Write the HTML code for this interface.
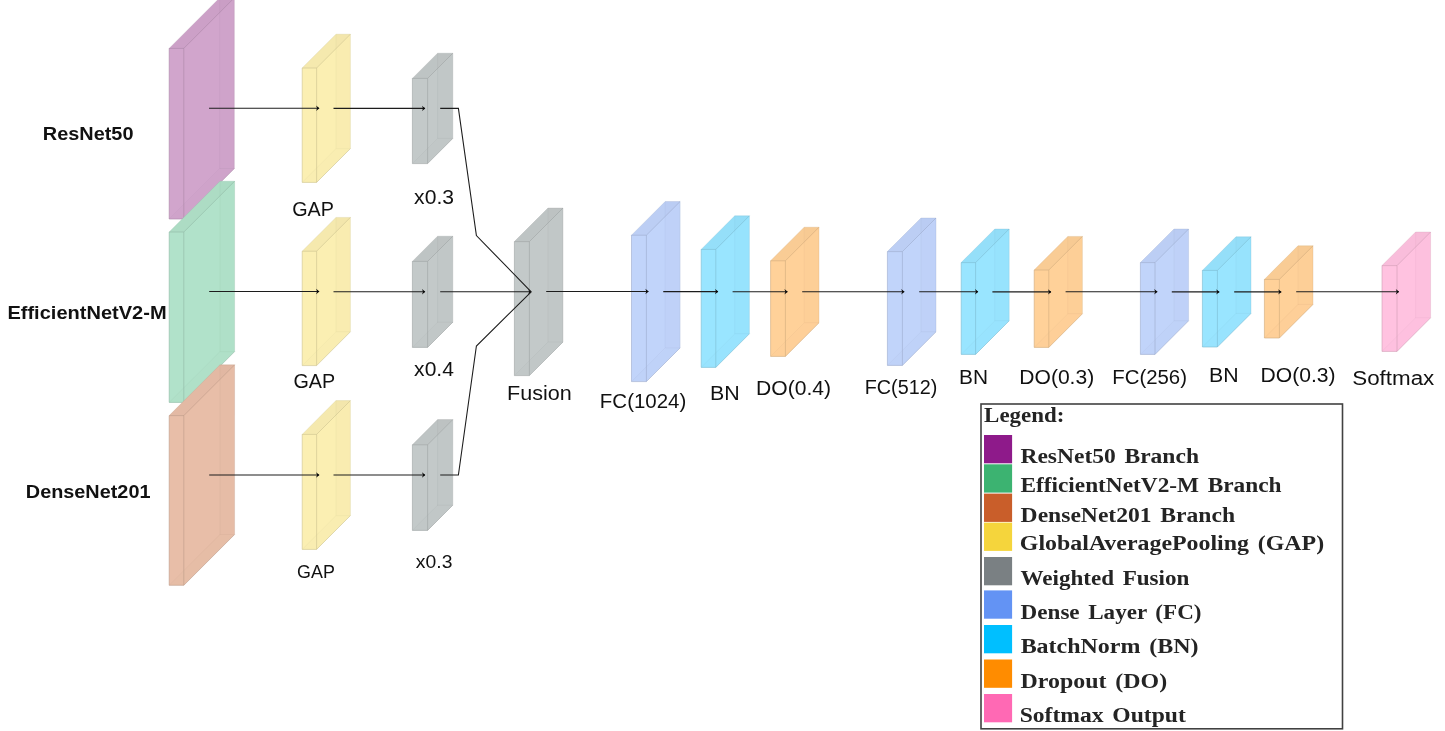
<!DOCTYPE html>
<html>
<head>
<meta charset="utf-8">
<title>Ensemble architecture</title>
<style>
html, body { margin: 0; padding: 0; background: #ffffff; }
body { width: 1445px; height: 731px; overflow: hidden; font-family: "Liberation Sans", sans-serif; }
svg { display: block; will-change: transform; transform: translateZ(0); }
svg text { font-family: "Liberation Sans", sans-serif; fill: #111; }
svg text.lg { font-family: "Liberation Serif", serif; font-weight: bold; font-size: 20.5px; fill: #242424; word-spacing: 2.5px; }
</style>
</head>
<body>
<svg width="1445" height="731" viewBox="0 0 1445 731">
<rect x="0" y="0" width="1445" height="731" fill="#ffffff"/>
<g id="boxes">
<polygon points="169.2,48.4 219.7,-2.1 234.3,-2.1 234.3,168.5 183.8,219 169.2,219" fill="#D1A5CC"/>
<polygon points="219.7,-2.1 234.3,-2.1 234.3,168.5 219.7,168.5" fill="#AB87A7" fill-opacity="0.045"/>
<polygon points="169.2,219 183.8,219 234.3,168.5 219.7,168.5" fill="#AB87A7" fill-opacity="0.03"/>
<polygon points="169.2,48.4 219.7,-2.1 234.3,-2.1 183.8,48.4" fill="#AB87A7" fill-opacity="0.13"/>
<path d="M169.2,219 L219.7,168.5 M219.7,168.5 L219.7,-2.1 M219.7,168.5 L234.3,168.5" stroke="#AB87A7" stroke-opacity="0.18" stroke-width="0.8" fill="none"/>
<path d="M169.2,48.4 L183.8,48.4 L183.8,219 L169.2,219 Z M183.8,48.4 L234.3,-2.1 M183.8,219 L234.3,168.5" stroke="#AB87A7" stroke-opacity="0.68" stroke-width="0.9" fill="none"/>
<path d="M169.2,48.4 L219.7,-2.1 L234.3,-2.1 L234.3,168.5" stroke="#AB87A7" stroke-opacity="0.35" stroke-width="0.8" fill="none"/>
<polygon points="169.2,232 220,181.2 234.6,181.2 234.6,351.6 183.8,402.4 169.2,402.4" fill="#B1E2CA"/>
<polygon points="220,181.2 234.6,181.2 234.6,351.6 220,351.6" fill="#91B9A5" fill-opacity="0.045"/>
<polygon points="169.2,402.4 183.8,402.4 234.6,351.6 220,351.6" fill="#91B9A5" fill-opacity="0.03"/>
<polygon points="169.2,232 220,181.2 234.6,181.2 183.8,232" fill="#91B9A5" fill-opacity="0.13"/>
<path d="M169.2,402.4 L220,351.6 M220,351.6 L220,181.2 M220,351.6 L234.6,351.6" stroke="#91B9A5" stroke-opacity="0.18" stroke-width="0.8" fill="none"/>
<path d="M169.2,232 L183.8,232 L183.8,402.4 L169.2,402.4 Z M183.8,232 L234.6,181.2 M183.8,402.4 L234.6,351.6" stroke="#91B9A5" stroke-opacity="0.68" stroke-width="0.9" fill="none"/>
<path d="M169.2,232 L220,181.2 L234.6,181.2 L234.6,351.6" stroke="#91B9A5" stroke-opacity="0.35" stroke-width="0.8" fill="none"/>
<polygon points="169.2,415.6 220,364.8 234.6,364.8 234.6,534.5 183.8,585.3 169.2,585.3" fill="#E8BEA8"/>
<polygon points="220,364.8 234.6,364.8 234.6,534.5 220,534.5" fill="#BE9B89" fill-opacity="0.045"/>
<polygon points="169.2,585.3 183.8,585.3 234.6,534.5 220,534.5" fill="#BE9B89" fill-opacity="0.03"/>
<polygon points="169.2,415.6 220,364.8 234.6,364.8 183.8,415.6" fill="#BE9B89" fill-opacity="0.13"/>
<path d="M169.2,585.3 L220,534.5 M220,534.5 L220,364.8 M220,534.5 L234.6,534.5" stroke="#BE9B89" stroke-opacity="0.18" stroke-width="0.8" fill="none"/>
<path d="M169.2,415.6 L183.8,415.6 L183.8,585.3 L169.2,585.3 Z M183.8,415.6 L234.6,364.8 M183.8,585.3 L234.6,534.5" stroke="#BE9B89" stroke-opacity="0.68" stroke-width="0.9" fill="none"/>
<path d="M169.2,415.6 L220,364.8 L234.6,364.8 L234.6,534.5" stroke="#BE9B89" stroke-opacity="0.35" stroke-width="0.8" fill="none"/>
<polygon points="302.2,68 336,34.2 350.4,34.2 350.4,148.6 316.6,182.4 302.2,182.4" fill="#FBEFB2"/>
<polygon points="336,34.2 350.4,34.2 350.4,148.6 336,148.6" fill="#CDC391" fill-opacity="0.045"/>
<polygon points="302.2,182.4 316.6,182.4 350.4,148.6 336,148.6" fill="#CDC391" fill-opacity="0.03"/>
<polygon points="302.2,68 336,34.2 350.4,34.2 316.6,68" fill="#CDC391" fill-opacity="0.13"/>
<path d="M302.2,182.4 L336,148.6 M336,148.6 L336,34.2 M336,148.6 L350.4,148.6" stroke="#CDC391" stroke-opacity="0.18" stroke-width="0.8" fill="none"/>
<path d="M302.2,68 L316.6,68 L316.6,182.4 L302.2,182.4 Z M316.6,68 L350.4,34.2 M316.6,182.4 L350.4,148.6" stroke="#CDC391" stroke-opacity="0.68" stroke-width="0.9" fill="none"/>
<path d="M302.2,68 L336,34.2 L350.4,34.2 L350.4,148.6" stroke="#CDC391" stroke-opacity="0.35" stroke-width="0.8" fill="none"/>
<polygon points="302.2,251.2 336,217.4 350.4,217.4 350.4,331.8 316.6,365.6 302.2,365.6" fill="#FBEFB2"/>
<polygon points="336,217.4 350.4,217.4 350.4,331.8 336,331.8" fill="#CDC391" fill-opacity="0.045"/>
<polygon points="302.2,365.6 316.6,365.6 350.4,331.8 336,331.8" fill="#CDC391" fill-opacity="0.03"/>
<polygon points="302.2,251.2 336,217.4 350.4,217.4 316.6,251.2" fill="#CDC391" fill-opacity="0.13"/>
<path d="M302.2,365.6 L336,331.8 M336,331.8 L336,217.4 M336,331.8 L350.4,331.8" stroke="#CDC391" stroke-opacity="0.18" stroke-width="0.8" fill="none"/>
<path d="M302.2,251.2 L316.6,251.2 L316.6,365.6 L302.2,365.6 Z M316.6,251.2 L350.4,217.4 M316.6,365.6 L350.4,331.8" stroke="#CDC391" stroke-opacity="0.68" stroke-width="0.9" fill="none"/>
<path d="M302.2,251.2 L336,217.4 L350.4,217.4 L350.4,331.8" stroke="#CDC391" stroke-opacity="0.35" stroke-width="0.8" fill="none"/>
<polygon points="302.2,434.4 336,400.6 350.4,400.6 350.4,515.6 316.6,549.4 302.2,549.4" fill="#FBEFB2"/>
<polygon points="336,400.6 350.4,400.6 350.4,515.6 336,515.6" fill="#CDC391" fill-opacity="0.045"/>
<polygon points="302.2,549.4 316.6,549.4 350.4,515.6 336,515.6" fill="#CDC391" fill-opacity="0.03"/>
<polygon points="302.2,434.4 336,400.6 350.4,400.6 316.6,434.4" fill="#CDC391" fill-opacity="0.13"/>
<path d="M302.2,549.4 L336,515.6 M336,515.6 L336,400.6 M336,515.6 L350.4,515.6" stroke="#CDC391" stroke-opacity="0.18" stroke-width="0.8" fill="none"/>
<path d="M302.2,434.4 L316.6,434.4 L316.6,549.4 L302.2,549.4 Z M316.6,434.4 L350.4,400.6 M316.6,549.4 L350.4,515.6" stroke="#CDC391" stroke-opacity="0.68" stroke-width="0.9" fill="none"/>
<path d="M302.2,434.4 L336,400.6 L350.4,400.6 L350.4,515.6" stroke="#CDC391" stroke-opacity="0.35" stroke-width="0.8" fill="none"/>
<polygon points="412.4,78.4 437.6,53.2 452.8,53.2 452.8,138.4 427.6,163.6 412.4,163.6" fill="#C3C9C9"/>
<polygon points="437.6,53.2 452.8,53.2 452.8,138.4 437.6,138.4" fill="#9FA4A4" fill-opacity="0.045"/>
<polygon points="412.4,163.6 427.6,163.6 452.8,138.4 437.6,138.4" fill="#9FA4A4" fill-opacity="0.03"/>
<polygon points="412.4,78.4 437.6,53.2 452.8,53.2 427.6,78.4" fill="#9FA4A4" fill-opacity="0.13"/>
<path d="M412.4,163.6 L437.6,138.4 M437.6,138.4 L437.6,53.2 M437.6,138.4 L452.8,138.4" stroke="#9FA4A4" stroke-opacity="0.18" stroke-width="0.8" fill="none"/>
<path d="M412.4,78.4 L427.6,78.4 L427.6,163.6 L412.4,163.6 Z M427.6,78.4 L452.8,53.2 M427.6,163.6 L452.8,138.4" stroke="#9FA4A4" stroke-opacity="0.68" stroke-width="0.9" fill="none"/>
<path d="M412.4,78.4 L437.6,53.2 L452.8,53.2 L452.8,138.4" stroke="#9FA4A4" stroke-opacity="0.35" stroke-width="0.8" fill="none"/>
<polygon points="412.4,261.4 437.6,236.2 452.8,236.2 452.8,322.2 427.6,347.4 412.4,347.4" fill="#C3C9C9"/>
<polygon points="437.6,236.2 452.8,236.2 452.8,322.2 437.6,322.2" fill="#9FA4A4" fill-opacity="0.045"/>
<polygon points="412.4,347.4 427.6,347.4 452.8,322.2 437.6,322.2" fill="#9FA4A4" fill-opacity="0.03"/>
<polygon points="412.4,261.4 437.6,236.2 452.8,236.2 427.6,261.4" fill="#9FA4A4" fill-opacity="0.13"/>
<path d="M412.4,347.4 L437.6,322.2 M437.6,322.2 L437.6,236.2 M437.6,322.2 L452.8,322.2" stroke="#9FA4A4" stroke-opacity="0.18" stroke-width="0.8" fill="none"/>
<path d="M412.4,261.4 L427.6,261.4 L427.6,347.4 L412.4,347.4 Z M427.6,261.4 L452.8,236.2 M427.6,347.4 L452.8,322.2" stroke="#9FA4A4" stroke-opacity="0.68" stroke-width="0.9" fill="none"/>
<path d="M412.4,261.4 L437.6,236.2 L452.8,236.2 L452.8,322.2" stroke="#9FA4A4" stroke-opacity="0.35" stroke-width="0.8" fill="none"/>
<polygon points="412.4,444.8 437.6,419.6 452.8,419.6 452.8,505.2 427.6,530.4 412.4,530.4" fill="#C3C9C9"/>
<polygon points="437.6,419.6 452.8,419.6 452.8,505.2 437.6,505.2" fill="#9FA4A4" fill-opacity="0.045"/>
<polygon points="412.4,530.4 427.6,530.4 452.8,505.2 437.6,505.2" fill="#9FA4A4" fill-opacity="0.03"/>
<polygon points="412.4,444.8 437.6,419.6 452.8,419.6 427.6,444.8" fill="#9FA4A4" fill-opacity="0.13"/>
<path d="M412.4,530.4 L437.6,505.2 M437.6,505.2 L437.6,419.6 M437.6,505.2 L452.8,505.2" stroke="#9FA4A4" stroke-opacity="0.18" stroke-width="0.8" fill="none"/>
<path d="M412.4,444.8 L427.6,444.8 L427.6,530.4 L412.4,530.4 Z M427.6,444.8 L452.8,419.6 M427.6,530.4 L452.8,505.2" stroke="#9FA4A4" stroke-opacity="0.68" stroke-width="0.9" fill="none"/>
<path d="M412.4,444.8 L437.6,419.6 L452.8,419.6 L452.8,505.2" stroke="#9FA4A4" stroke-opacity="0.35" stroke-width="0.8" fill="none"/>
<polygon points="514.4,241.6 548,208 563,208 563,342 529.4,375.6 514.4,375.6" fill="#C3C9C9"/>
<polygon points="548,208 563,208 563,342 548,342" fill="#9FA4A4" fill-opacity="0.045"/>
<polygon points="514.4,375.6 529.4,375.6 563,342 548,342" fill="#9FA4A4" fill-opacity="0.03"/>
<polygon points="514.4,241.6 548,208 563,208 529.4,241.6" fill="#9FA4A4" fill-opacity="0.13"/>
<path d="M514.4,375.6 L548,342 M548,342 L548,208 M548,342 L563,342" stroke="#9FA4A4" stroke-opacity="0.18" stroke-width="0.8" fill="none"/>
<path d="M514.4,241.6 L529.4,241.6 L529.4,375.6 L514.4,375.6 Z M529.4,241.6 L563,208 M529.4,375.6 L563,342" stroke="#9FA4A4" stroke-opacity="0.68" stroke-width="0.9" fill="none"/>
<path d="M514.4,241.6 L548,208 L563,208 L563,342" stroke="#9FA4A4" stroke-opacity="0.35" stroke-width="0.8" fill="none"/>
<polygon points="631.5,235.2 665.2,201.5 680.1,201.5 680.1,347.9 646.4,381.6 631.5,381.6" fill="#C1D4FA"/>
<polygon points="665.2,201.5 680.1,201.5 680.1,347.9 665.2,347.9" fill="#9EADCD" fill-opacity="0.045"/>
<polygon points="631.5,381.6 646.4,381.6 680.1,347.9 665.2,347.9" fill="#9EADCD" fill-opacity="0.03"/>
<polygon points="631.5,235.2 665.2,201.5 680.1,201.5 646.4,235.2" fill="#9EADCD" fill-opacity="0.13"/>
<path d="M631.5,381.6 L665.2,347.9 M665.2,347.9 L665.2,201.5 M665.2,347.9 L680.1,347.9" stroke="#9EADCD" stroke-opacity="0.18" stroke-width="0.8" fill="none"/>
<path d="M631.5,235.2 L646.4,235.2 L646.4,381.6 L631.5,381.6 Z M646.4,235.2 L680.1,201.5 M646.4,381.6 L680.1,347.9" stroke="#9EADCD" stroke-opacity="0.68" stroke-width="0.9" fill="none"/>
<path d="M631.5,235.2 L665.2,201.5 L680.1,201.5 L680.1,347.9" stroke="#9EADCD" stroke-opacity="0.35" stroke-width="0.8" fill="none"/>
<polygon points="701.2,249.4 734.8,215.8 749.4,215.8 749.4,333.8 715.8,367.4 701.2,367.4" fill="#99E5FF"/>
<polygon points="734.8,215.8 749.4,215.8 749.4,333.8 734.8,333.8" fill="#7DBBD1" fill-opacity="0.045"/>
<polygon points="701.2,367.4 715.8,367.4 749.4,333.8 734.8,333.8" fill="#7DBBD1" fill-opacity="0.03"/>
<polygon points="701.2,249.4 734.8,215.8 749.4,215.8 715.8,249.4" fill="#7DBBD1" fill-opacity="0.13"/>
<path d="M701.2,367.4 L734.8,333.8 M734.8,333.8 L734.8,215.8 M734.8,333.8 L749.4,333.8" stroke="#7DBBD1" stroke-opacity="0.18" stroke-width="0.8" fill="none"/>
<path d="M701.2,249.4 L715.8,249.4 L715.8,367.4 L701.2,367.4 Z M715.8,249.4 L749.4,215.8 M715.8,367.4 L749.4,333.8" stroke="#7DBBD1" stroke-opacity="0.68" stroke-width="0.9" fill="none"/>
<path d="M701.2,249.4 L734.8,215.8 L749.4,215.8 L749.4,333.8" stroke="#7DBBD1" stroke-opacity="0.35" stroke-width="0.8" fill="none"/>
<polygon points="770.6,260.8 804.2,227.2 819,227.2 819,322.8 785.4,356.4 770.6,356.4" fill="#FFD199"/>
<polygon points="804.2,227.2 819,227.2 819,322.8 804.2,322.8" fill="#D1AB7D" fill-opacity="0.045"/>
<polygon points="770.6,356.4 785.4,356.4 819,322.8 804.2,322.8" fill="#D1AB7D" fill-opacity="0.03"/>
<polygon points="770.6,260.8 804.2,227.2 819,227.2 785.4,260.8" fill="#D1AB7D" fill-opacity="0.13"/>
<path d="M770.6,356.4 L804.2,322.8 M804.2,322.8 L804.2,227.2 M804.2,322.8 L819,322.8" stroke="#D1AB7D" stroke-opacity="0.18" stroke-width="0.8" fill="none"/>
<path d="M770.6,260.8 L785.4,260.8 L785.4,356.4 L770.6,356.4 Z M785.4,260.8 L819,227.2 M785.4,356.4 L819,322.8" stroke="#D1AB7D" stroke-opacity="0.68" stroke-width="0.9" fill="none"/>
<path d="M770.6,260.8 L804.2,227.2 L819,227.2 L819,322.8" stroke="#D1AB7D" stroke-opacity="0.35" stroke-width="0.8" fill="none"/>
<polygon points="887.4,251.6 921,218 936,218 936,331.8 902.4,365.4 887.4,365.4" fill="#C1D4FA"/>
<polygon points="921,218 936,218 936,331.8 921,331.8" fill="#9EADCD" fill-opacity="0.045"/>
<polygon points="887.4,365.4 902.4,365.4 936,331.8 921,331.8" fill="#9EADCD" fill-opacity="0.03"/>
<polygon points="887.4,251.6 921,218 936,218 902.4,251.6" fill="#9EADCD" fill-opacity="0.13"/>
<path d="M887.4,365.4 L921,331.8 M921,331.8 L921,218 M921,331.8 L936,331.8" stroke="#9EADCD" stroke-opacity="0.18" stroke-width="0.8" fill="none"/>
<path d="M887.4,251.6 L902.4,251.6 L902.4,365.4 L887.4,365.4 Z M902.4,251.6 L936,218 M902.4,365.4 L936,331.8" stroke="#9EADCD" stroke-opacity="0.68" stroke-width="0.9" fill="none"/>
<path d="M887.4,251.6 L921,218 L936,218 L936,331.8" stroke="#9EADCD" stroke-opacity="0.35" stroke-width="0.8" fill="none"/>
<polygon points="961.2,262.6 994.8,229 1009.2,229 1009.2,320.8 975.6,354.4 961.2,354.4" fill="#99E5FF"/>
<polygon points="994.8,229 1009.2,229 1009.2,320.8 994.8,320.8" fill="#7DBBD1" fill-opacity="0.045"/>
<polygon points="961.2,354.4 975.6,354.4 1009.2,320.8 994.8,320.8" fill="#7DBBD1" fill-opacity="0.03"/>
<polygon points="961.2,262.6 994.8,229 1009.2,229 975.6,262.6" fill="#7DBBD1" fill-opacity="0.13"/>
<path d="M961.2,354.4 L994.8,320.8 M994.8,320.8 L994.8,229 M994.8,320.8 L1009.2,320.8" stroke="#7DBBD1" stroke-opacity="0.18" stroke-width="0.8" fill="none"/>
<path d="M961.2,262.6 L975.6,262.6 L975.6,354.4 L961.2,354.4 Z M975.6,262.6 L1009.2,229 M975.6,354.4 L1009.2,320.8" stroke="#7DBBD1" stroke-opacity="0.68" stroke-width="0.9" fill="none"/>
<path d="M961.2,262.6 L994.8,229 L1009.2,229 L1009.2,320.8" stroke="#7DBBD1" stroke-opacity="0.35" stroke-width="0.8" fill="none"/>
<polygon points="1034.2,270 1067.8,236.4 1082.4,236.4 1082.4,313.8 1048.8,347.4 1034.2,347.4" fill="#FFD199"/>
<polygon points="1067.8,236.4 1082.4,236.4 1082.4,313.8 1067.8,313.8" fill="#D1AB7D" fill-opacity="0.045"/>
<polygon points="1034.2,347.4 1048.8,347.4 1082.4,313.8 1067.8,313.8" fill="#D1AB7D" fill-opacity="0.03"/>
<polygon points="1034.2,270 1067.8,236.4 1082.4,236.4 1048.8,270" fill="#D1AB7D" fill-opacity="0.13"/>
<path d="M1034.2,347.4 L1067.8,313.8 M1067.8,313.8 L1067.8,236.4 M1067.8,313.8 L1082.4,313.8" stroke="#D1AB7D" stroke-opacity="0.18" stroke-width="0.8" fill="none"/>
<path d="M1034.2,270 L1048.8,270 L1048.8,347.4 L1034.2,347.4 Z M1048.8,270 L1082.4,236.4 M1048.8,347.4 L1082.4,313.8" stroke="#D1AB7D" stroke-opacity="0.68" stroke-width="0.9" fill="none"/>
<path d="M1034.2,270 L1067.8,236.4 L1082.4,236.4 L1082.4,313.8" stroke="#D1AB7D" stroke-opacity="0.35" stroke-width="0.8" fill="none"/>
<polygon points="1140.4,262.6 1174,229 1188.6,229 1188.6,320.8 1155,354.4 1140.4,354.4" fill="#C1D4FA"/>
<polygon points="1174,229 1188.6,229 1188.6,320.8 1174,320.8" fill="#9EADCD" fill-opacity="0.045"/>
<polygon points="1140.4,354.4 1155,354.4 1188.6,320.8 1174,320.8" fill="#9EADCD" fill-opacity="0.03"/>
<polygon points="1140.4,262.6 1174,229 1188.6,229 1155,262.6" fill="#9EADCD" fill-opacity="0.13"/>
<path d="M1140.4,354.4 L1174,320.8 M1174,320.8 L1174,229 M1174,320.8 L1188.6,320.8" stroke="#9EADCD" stroke-opacity="0.18" stroke-width="0.8" fill="none"/>
<path d="M1140.4,262.6 L1155,262.6 L1155,354.4 L1140.4,354.4 Z M1155,262.6 L1188.6,229 M1155,354.4 L1188.6,320.8" stroke="#9EADCD" stroke-opacity="0.68" stroke-width="0.9" fill="none"/>
<path d="M1140.4,262.6 L1174,229 L1188.6,229 L1188.6,320.8" stroke="#9EADCD" stroke-opacity="0.35" stroke-width="0.8" fill="none"/>
<polygon points="1202.4,270.4 1236,236.8 1251,236.8 1251,313.4 1217.4,347 1202.4,347" fill="#99E5FF"/>
<polygon points="1236,236.8 1251,236.8 1251,313.4 1236,313.4" fill="#7DBBD1" fill-opacity="0.045"/>
<polygon points="1202.4,347 1217.4,347 1251,313.4 1236,313.4" fill="#7DBBD1" fill-opacity="0.03"/>
<polygon points="1202.4,270.4 1236,236.8 1251,236.8 1217.4,270.4" fill="#7DBBD1" fill-opacity="0.13"/>
<path d="M1202.4,347 L1236,313.4 M1236,313.4 L1236,236.8 M1236,313.4 L1251,313.4" stroke="#7DBBD1" stroke-opacity="0.18" stroke-width="0.8" fill="none"/>
<path d="M1202.4,270.4 L1217.4,270.4 L1217.4,347 L1202.4,347 Z M1217.4,270.4 L1251,236.8 M1217.4,347 L1251,313.4" stroke="#7DBBD1" stroke-opacity="0.68" stroke-width="0.9" fill="none"/>
<path d="M1202.4,270.4 L1236,236.8 L1251,236.8 L1251,313.4" stroke="#7DBBD1" stroke-opacity="0.35" stroke-width="0.8" fill="none"/>
<polygon points="1264.4,279.4 1298,245.8 1313,245.8 1313,304.4 1279.4,338 1264.4,338" fill="#FFD199"/>
<polygon points="1298,245.8 1313,245.8 1313,304.4 1298,304.4" fill="#D1AB7D" fill-opacity="0.045"/>
<polygon points="1264.4,338 1279.4,338 1313,304.4 1298,304.4" fill="#D1AB7D" fill-opacity="0.03"/>
<polygon points="1264.4,279.4 1298,245.8 1313,245.8 1279.4,279.4" fill="#D1AB7D" fill-opacity="0.13"/>
<path d="M1264.4,338 L1298,304.4 M1298,304.4 L1298,245.8 M1298,304.4 L1313,304.4" stroke="#D1AB7D" stroke-opacity="0.18" stroke-width="0.8" fill="none"/>
<path d="M1264.4,279.4 L1279.4,279.4 L1279.4,338 L1264.4,338 Z M1279.4,279.4 L1313,245.8 M1279.4,338 L1313,304.4" stroke="#D1AB7D" stroke-opacity="0.68" stroke-width="0.9" fill="none"/>
<path d="M1264.4,279.4 L1298,245.8 L1313,245.8 L1313,304.4" stroke="#D1AB7D" stroke-opacity="0.35" stroke-width="0.8" fill="none"/>
<polygon points="1382,265.6 1415.6,232 1430.6,232 1430.6,317.8 1397,351.4 1382,351.4" fill="#FFC2E0"/>
<polygon points="1415.6,232 1430.6,232 1430.6,317.8 1415.6,317.8" fill="#D19FB7" fill-opacity="0.045"/>
<polygon points="1382,351.4 1397,351.4 1430.6,317.8 1415.6,317.8" fill="#D19FB7" fill-opacity="0.03"/>
<polygon points="1382,265.6 1415.6,232 1430.6,232 1397,265.6" fill="#D19FB7" fill-opacity="0.13"/>
<path d="M1382,351.4 L1415.6,317.8 M1415.6,317.8 L1415.6,232 M1415.6,317.8 L1430.6,317.8" stroke="#D19FB7" stroke-opacity="0.18" stroke-width="0.8" fill="none"/>
<path d="M1382,265.6 L1397,265.6 L1397,351.4 L1382,351.4 Z M1397,265.6 L1430.6,232 M1397,351.4 L1430.6,317.8" stroke="#D19FB7" stroke-opacity="0.68" stroke-width="0.9" fill="none"/>
<path d="M1382,265.6 L1415.6,232 L1430.6,232 L1430.6,317.8" stroke="#D19FB7" stroke-opacity="0.35" stroke-width="0.8" fill="none"/>
</g>
<g id="connections">
<line x1="209.05" y1="108.3" x2="319.1" y2="108.3" stroke="#1c1c1c" stroke-width="1.08"/><polygon points="319.4,108.3 316.1,105.6 317.1,108.3 316.1,111" fill="#0a0a0a"/>
<line x1="333.5" y1="108.4" x2="425" y2="108.4" stroke="#1c1c1c" stroke-width="1.08"/><polygon points="425.3,108.4 422,105.7 423,108.4 422,111.1" fill="#0a0a0a"/>
<line x1="209.2" y1="291.5" x2="319.1" y2="291.5" stroke="#1c1c1c" stroke-width="1.08"/><polygon points="319.4,291.5 316.1,288.8 317.1,291.5 316.1,294.2" fill="#0a0a0a"/>
<line x1="333.5" y1="291.8" x2="425" y2="291.8" stroke="#1c1c1c" stroke-width="1.08"/><polygon points="425.3,291.8 422,289.1 423,291.8 422,294.5" fill="#0a0a0a"/>
<line x1="209.2" y1="475" x2="319.1" y2="475" stroke="#1c1c1c" stroke-width="1.08"/><polygon points="319.4,475 316.1,472.3 317.1,475 316.1,477.7" fill="#0a0a0a"/>
<line x1="333.5" y1="475" x2="425" y2="475" stroke="#1c1c1c" stroke-width="1.08"/><polygon points="425.3,475 422,472.3 423,475 422,477.7" fill="#0a0a0a"/>
<line x1="440.2" y1="291.8" x2="531.2" y2="291.8" stroke="#1c1c1c" stroke-width="1.08"/><polygon points="531.5,291.8 528.2,289.1 529.2,291.8 528.2,294.5" fill="#0a0a0a"/>
<line x1="546.2" y1="291.55" x2="648.35" y2="291.55" stroke="#1c1c1c" stroke-width="1.08"/><polygon points="648.65,291.55 645.35,288.85 646.35,291.55 645.35,294.25" fill="#0a0a0a"/>
<line x1="663.25" y1="291.6" x2="718" y2="291.6" stroke="#1c1c1c" stroke-width="1.08"/><polygon points="718.3,291.6 715,288.9 716,291.6 715,294.3" fill="#0a0a0a"/>
<line x1="732.6" y1="291.8" x2="787.4" y2="291.8" stroke="#1c1c1c" stroke-width="1.08"/><polygon points="787.7,291.8 784.4,289.1 785.4,291.8 784.4,294.5" fill="#0a0a0a"/>
<line x1="802.2" y1="291.7" x2="904.2" y2="291.7" stroke="#1c1c1c" stroke-width="1.08"/><polygon points="904.5,291.7 901.2,289 902.2,291.7 901.2,294.4" fill="#0a0a0a"/>
<line x1="919.2" y1="291.7" x2="978" y2="291.7" stroke="#1c1c1c" stroke-width="1.08"/><polygon points="978.3,291.7 975,289 976,291.7 975,294.4" fill="#0a0a0a"/>
<line x1="992.4" y1="291.9" x2="1051" y2="291.9" stroke="#1c1c1c" stroke-width="1.08"/><polygon points="1051.3,291.9 1048,289.2 1049,291.9 1048,294.6" fill="#0a0a0a"/>
<line x1="1065.6" y1="291.7" x2="1157.2" y2="291.7" stroke="#1c1c1c" stroke-width="1.08"/><polygon points="1157.5,291.7 1154.2,289 1155.2,291.7 1154.2,294.4" fill="#0a0a0a"/>
<line x1="1171.8" y1="291.9" x2="1219.2" y2="291.9" stroke="#1c1c1c" stroke-width="1.08"/><polygon points="1219.5,291.9 1216.2,289.2 1217.2,291.9 1216.2,294.6" fill="#0a0a0a"/>
<line x1="1234.2" y1="291.9" x2="1281.2" y2="291.9" stroke="#1c1c1c" stroke-width="1.08"/><polygon points="1281.5,291.9 1278.2,289.2 1279.2,291.9 1278.2,294.6" fill="#0a0a0a"/>
<line x1="1296.2" y1="291.7" x2="1398.8" y2="291.7" stroke="#1c1c1c" stroke-width="1.08"/><polygon points="1399.1,291.7 1395.8,289 1396.8,291.7 1395.8,294.4" fill="#0a0a0a"/>
<polyline points="440.2,108.4 458.4,108.4 476.4,235.6 531.2,291.8" fill="none" stroke="#1c1c1c" stroke-width="1.08" stroke-linejoin="miter"/>
<polyline points="440.2,475 458.4,475 476.4,346 531.2,291.8" fill="none" stroke="#1c1c1c" stroke-width="1.08" stroke-linejoin="miter"/>
</g>
<g id="legend">
<rect x="981" y="404" width="361.5" height="324.8" fill="#fff" stroke="#414141" stroke-width="1.6"/>
<rect x="984" y="435" width="28.1" height="28.3" fill="#8E1A8A"/>
<rect x="984" y="464.3" width="28.1" height="28.3" fill="#3CB371"/>
<rect x="984" y="493.6" width="28.1" height="28.3" fill="#C95E2A"/>
<rect x="984" y="522.6" width="28.1" height="28.3" fill="#F5D53C"/>
<rect x="984" y="557" width="28.1" height="28.3" fill="#7A8083"/>
<rect x="984" y="590.4" width="28.1" height="28.3" fill="#6393F4"/>
<rect x="984" y="625" width="28.1" height="28.3" fill="#00BFFF"/>
<rect x="984" y="659.5" width="28.1" height="28.3" fill="#FF8C00"/>
<rect x="984" y="694" width="28.1" height="28.3" fill="#FF69B4"/>
</g>
<g id="labels">
<text x="42.81" y="139.9" font-size="19.2" font-weight="bold" textLength="90.65" lengthAdjust="spacingAndGlyphs">ResNet50</text>
<text x="7.41" y="318.8" font-size="19.2" font-weight="bold" textLength="159.18" lengthAdjust="spacingAndGlyphs">EfficientNetV2-M</text>
<text x="25.82" y="498.1" font-size="19.2" font-weight="bold" textLength="124.65" lengthAdjust="spacingAndGlyphs">DenseNet201</text>
<text x="292.16" y="216.3" font-size="20" font-weight="normal" textLength="41.7" lengthAdjust="spacingAndGlyphs">GAP</text>
<text x="293.46" y="387.6" font-size="20" font-weight="normal" textLength="41.67" lengthAdjust="spacingAndGlyphs">GAP</text>
<text x="297.07" y="578.1" font-size="18.2" font-weight="normal" textLength="37.77" lengthAdjust="spacingAndGlyphs">GAP</text>
<text x="414.12" y="203.8" font-size="20" font-weight="normal" textLength="39.88" lengthAdjust="spacingAndGlyphs">x0.3</text>
<text x="414.12" y="375.6" font-size="20" font-weight="normal" textLength="39.78" lengthAdjust="spacingAndGlyphs">x0.4</text>
<text x="415.85" y="567.7" font-size="18.2" font-weight="normal" textLength="36.57" lengthAdjust="spacingAndGlyphs">x0.3</text>
<text x="506.97" y="399.9" font-size="20" font-weight="normal" textLength="64.73" lengthAdjust="spacingAndGlyphs">Fusion</text>
<text x="599.89" y="408" font-size="20" font-weight="normal" textLength="86.4" lengthAdjust="spacingAndGlyphs">FC(1024)</text>
<text x="710.12" y="399.8" font-size="20" font-weight="normal" textLength="29.72" lengthAdjust="spacingAndGlyphs">BN</text>
<text x="756.11" y="395.4" font-size="20" font-weight="normal" textLength="74.97" lengthAdjust="spacingAndGlyphs">DO(0.4)</text>
<text x="864.75" y="393.6" font-size="20" font-weight="normal" textLength="72.52" lengthAdjust="spacingAndGlyphs">FC(512)</text>
<text x="958.99" y="384.4" font-size="20" font-weight="normal" textLength="29" lengthAdjust="spacingAndGlyphs">BN</text>
<text x="1019.31" y="384.4" font-size="20" font-weight="normal" textLength="74.91" lengthAdjust="spacingAndGlyphs">DO(0.3)</text>
<text x="1112.27" y="384.4" font-size="20" font-weight="normal" textLength="74.71" lengthAdjust="spacingAndGlyphs">FC(256)</text>
<text x="1209.11" y="381.8" font-size="20" font-weight="normal" textLength="29.6" lengthAdjust="spacingAndGlyphs">BN</text>
<text x="1260.56" y="381.8" font-size="20" font-weight="normal" textLength="74.99" lengthAdjust="spacingAndGlyphs">DO(0.3)</text>
<text x="1352.23" y="384.6" font-size="20" font-weight="normal" textLength="82.08" lengthAdjust="spacingAndGlyphs">Softmax</text>
<text x="984.11" y="421.6" class="lg" textLength="80.29" lengthAdjust="spacingAndGlyphs">Legend:</text>
<text x="1020.46" y="463" class="lg" textLength="178.52" lengthAdjust="spacingAndGlyphs">ResNet50 Branch</text>
<text x="1020.45" y="492" class="lg" textLength="261.09" lengthAdjust="spacingAndGlyphs">EfficientNetV2-M Branch</text>
<text x="1020.63" y="521.5" class="lg" textLength="214.4" lengthAdjust="spacingAndGlyphs">DenseNet201 Branch</text>
<text x="1019.88" y="550.4" class="lg" textLength="304.27" lengthAdjust="spacingAndGlyphs">GlobalAveragePooling (GAP)</text>
<text x="1020.5" y="585" class="lg" textLength="168.83" lengthAdjust="spacingAndGlyphs">Weighted Fusion</text>
<text x="1020.62" y="618.6" class="lg" textLength="180.93" lengthAdjust="spacingAndGlyphs">Dense Layer (FC)</text>
<text x="1020.65" y="653" class="lg" textLength="177.92" lengthAdjust="spacingAndGlyphs">BatchNorm (BN)</text>
<text x="1020.52" y="687.6" class="lg" textLength="146.63" lengthAdjust="spacingAndGlyphs">Dropout (DO)</text>
<text x="1019.69" y="722" class="lg" textLength="166.07" lengthAdjust="spacingAndGlyphs">Softmax Output</text>
</g>
</svg>
</body>
</html>
